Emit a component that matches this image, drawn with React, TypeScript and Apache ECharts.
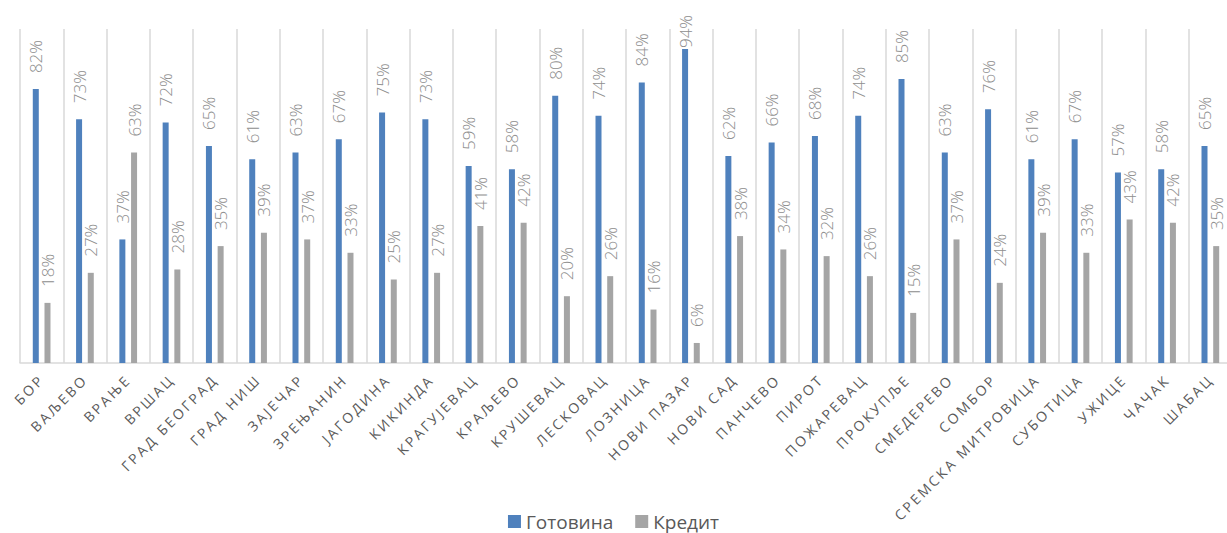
import React, { useEffect, useRef } from "react";
import * as echarts from "echarts";

// Cities
const categories: string[] = [
  "БОР", "ВАЉЕВО", "ВРАЊЕ", "ВРШАЦ", "ГРАД БЕОГРАД", "ГРАД НИШ", "ЗАЈЕЧАР",
  "ЗРЕЊАНИН", "ЈАГОДИНА", "КИКИНДА", "КРАГУЈЕВАЦ", "КРАЉЕВО", "КРУШЕВАЦ",
  "ЛЕСКОВАЦ", "ЛОЗНИЦА", "НОВИ ПАЗАР", "НОВИ САД", "ПАНЧЕВО", "ПИРОТ",
  "ПОЖАРЕВАЦ", "ПРОКУПЉЕ", "СМЕДЕРЕВО", "СОМБОР", "СРЕМСКА МИТРОВИЦА",
  "СУБОТИЦА", "УЖИЦЕ", "ЧАЧАК", "ШАБАЦ",
];

// Share of payments in cash (%)
const cash: number[] = [
  82, 73, 37, 72, 65, 61, 63, 67, 75, 73, 59, 58, 80, 74, 84, 94, 62, 66, 68,
  74, 85, 63, 76, 61, 67, 57, 58, 65,
];

// Share of payments on credit (%)
const credit: number[] = [
  18, 27, 63, 28, 35, 39, 37, 33, 25, 27, 41, 42, 20, 26, 16, 6, 38, 34, 32,
  26, 15, 37, 24, 39, 33, 43, 42, 35,
];

const seriesNames = ["Готовина", "Кредит"];

const AXIS_LABEL_COLOR = "#5a5a5a";
const LABEL_DISTANCE = 16;

// Labels of very tall bars are pulled down so they stay inside the chart
const withLabels = (values: number[]) =>
  values.map((v) =>
    v >= 90 ? { value: v, label: { distance: 1 } } : { value: v }
  );

export default function App() {
  const ref = useRef<HTMLDivElement>(null);

  useEffect(() => {
    if (!ref.current) return;
    const chart = echarts.init(ref.current, undefined, { renderer: "svg" });

    const labelStyle = {
      show: true,
      position: "top" as const,
      rotate: 90,
      align: "left" as const,
      verticalAlign: "middle" as const,
      distance: LABEL_DISTANCE,
      formatter: "{c}%",
      fontSize: 17,
      fontWeight: 300,
      fontFamily: "Open Sans",
      color: "#8e8e8e",
    };

    chart.setOption({
      animation: false,
      backgroundColor: "#ffffff",
      grid: {
        left: 20,
        top: 29,
        width: 1212,
        height: 334,
        containLabel: false,
        outerBoundsMode: "none",
      },
      legend: {
        data: seriesNames,
        left: "center",
        top: 507,
        icon: "rect",
        itemWidth: 13,
        itemHeight: 13,
        itemGap: 22,
        textStyle: { fontSize: 19, color: "#595959", fontFamily: "Open Sans" },
      },
      xAxis: {
        type: "category",
        data: categories,
        axisTick: { show: false },
        axisLine: { lineStyle: { color: "#d9d9d9", width: 1.5 } },
        splitLine: {
          show: true,
          interval: 0,
          lineStyle: { color: "#d9d9d9", width: 1.5 },
        },
        axisLabel: {
          interval: 0,
          rotate: 45,
          margin: 14,
          fontSize: 14,
          fontFamily: "Open Sans",
          color: AXIS_LABEL_COLOR,
        },
      },
      yAxis: {
        type: "value",
        min: 0,
        max: 100,
        show: false,
        splitLine: { show: false },
      },
      series: [
        {
          name: seriesNames[0],
          type: "bar",
          data: withLabels(cash),
          barWidth: 6,
          barGap: "95%",
          itemStyle: { color: "#4f81bd" },
          label: labelStyle,
        },
        {
          name: seriesNames[1],
          type: "bar",
          data: withLabels(credit),
          barWidth: 6,
          itemStyle: { color: "#a5a5a5" },
          label: labelStyle,
        },
      ],
    });

    return () => chart.dispose();
  }, []);

  return (
    <>
      <style>{`
        #cities-chart text[fill="${AXIS_LABEL_COLOR}"],
        #cities-chart text[style*="${AXIS_LABEL_COLOR}"] { letter-spacing: 2.5px; }
      `}</style>
      <div
        id="cities-chart"
        ref={ref}
        style={{
          position: "fixed",
          left: 0,
          top: 0,
          width: 1227,
          height: 533,
          overflow: "hidden",
        }}
      />
    </>
  );
}
